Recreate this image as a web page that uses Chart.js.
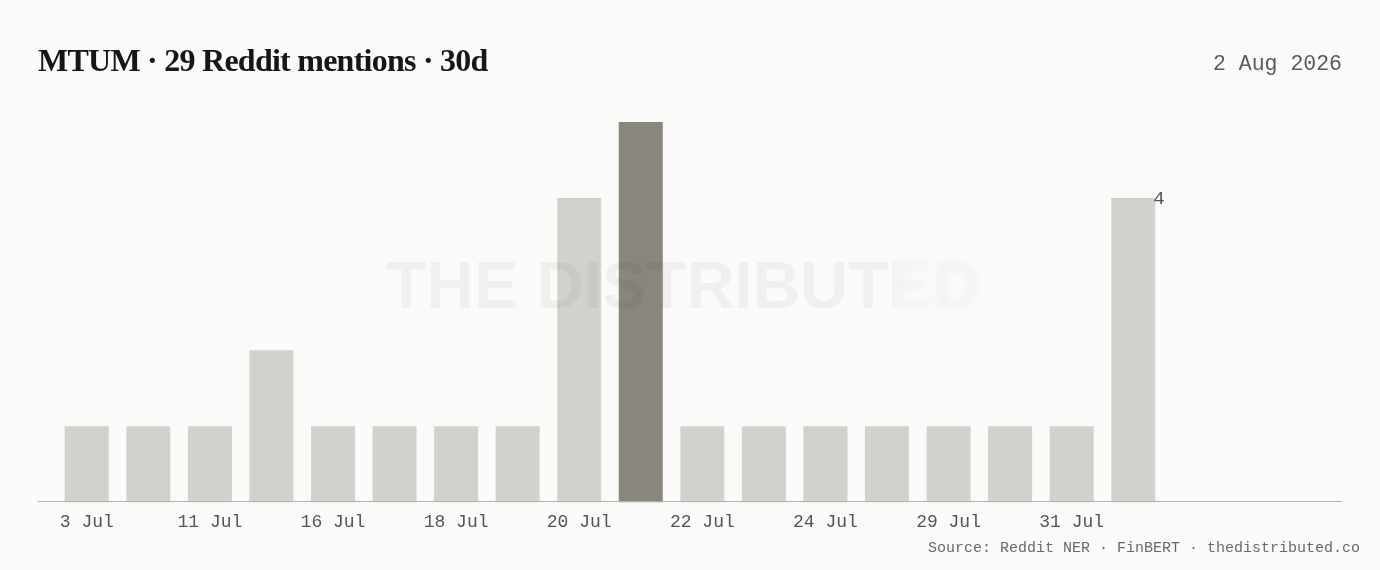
<!DOCTYPE html>
<html>
<head>
<meta charset="utf-8">
<script src="https://cdn.jsdelivr.net/npm/chart.js@4.4.1/dist/chart.umd.min.js"></script>
<style>
  html, body { margin: 0; padding: 0; background: #fafaf9; }
  #wrap { width: 1380px; height: 570px; position: relative; }
</style>
</head>
<body>
<div id="wrap"><canvas id="mentions-chart" width="1380" height="570"></canvas></div>
<script>
const days = ["3 Jul","8 Jul","11 Jul","14 Jul","16 Jul","17 Jul","18 Jul","19 Jul","20 Jul",
              "21 Jul","22 Jul","23 Jul","24 Jul","27 Jul","29 Jul","30 Jul","31 Jul","1 Aug"];
const mentions = [1,1,1,2,1,1,1,1,4,5,1,1,1,1,1,1,1,4];
const peakIndex = 9;
const titleText = "MTUM · 29 Reddit mentions · 30d";
const dateText = "2 Aug 2026";
const sourceText = "Source: Reddit NER · FinBERT · thedistributed.co";

const MONO = "'Liberation Mono', 'DejaVu Sans Mono', monospace";

// titles, watermark, baseline and the last-value label
const decor = {
    id: 'decor',
    beforeDraw(chart) {
        const c = chart.ctx;
        c.save();
        c.fillStyle = '#fafaf9';
        c.fillRect(0, 0, chart.width, chart.height);
        c.fillStyle = '#161616';
        c.font = "bold 32px 'Liberation Serif', serif";
        c.letterSpacing = '-0.75px';
        c.textBaseline = 'alphabetic';
        c.fillText(titleText, 38, 71);
        c.letterSpacing = '0px';
        c.fillStyle = '#5a5a5a';
        c.font = "21.5px " + MONO;
        c.textAlign = 'right';
        c.fillText(dateText, 1342, 70);
        c.fillStyle = '#6a6a6a';
        c.font = "15px " + MONO;
        c.fillText(sourceText, 1360, 552);
        c.restore();
    },
    afterDatasetsDraw(chart) {
        const c = chart.ctx;
        c.save();
        // baseline
        c.strokeStyle = '#b5b3b0';
        c.lineWidth = 1;
        c.beginPath();
        c.moveTo(38, 501.5);
        c.lineTo(1342, 501.5);
        c.stroke();
        // watermark
        c.font = "bold 66px 'Liberation Sans', Arial, sans-serif";
        c.textAlign = 'left';
        c.fillStyle = 'rgba(0,0,0,0.045)';
        c.save();
        c.beginPath(); c.rect(0, 0, 895, 570); c.clip();
        c.fillText("THE DISTRIBUTED", 386, 308);
        c.restore();
        c.save();
        c.beginPath(); c.rect(895, 0, 485, 570); c.clip();
        c.filter = 'blur(4px)';
        c.fillStyle = 'rgba(0,0,0,0.035)';
        c.fillText("THE DISTRIBUTED", 386, 308);
        c.restore();
        // last value label
        const meta = chart.getDatasetMeta(0);
        const last = meta.data[meta.data.length - 1];
        c.fillStyle = '#555';
        c.font = "19px " + MONO;
        c.textAlign = 'left';
        c.textBaseline = 'middle';
        c.fillText(String(mentions[mentions.length - 1]), last.x + last.width / 2 - 2, last.y + 1);
        c.restore();
    }
};

const ctx = document.getElementById("mentions-chart").getContext("2d");

let chart = new Chart(ctx, {
    type: 'bar',
    data: {
        labels: days,
        datasets: [{
            label: "Mentions",
            data: mentions,
            backgroundColor: mentions.map((v, i) => i === peakIndex ? "#8a857d" : "#d3d1cd"),
            borderWidth: 0,
            barPercentage: 0.715,
            categoryPercentage: 1
        }]
    },
    options: {
        responsive: false,
        animation: false,
        devicePixelRatio: 1,
        layout: {
            padding: { left: 56, right: 216, top: 122, bottom: 28 }
        },
        plugins: {
            legend: { display: false },
            tooltip: { enabled: false }
        },
        scales: {
            x: {
                grid: { display: false, drawTicks: false },
                border: { display: false },
                ticks: {
                    autoSkip: false,
                    maxRotation: 0,
                    padding: 9,
                    color: '#555',
                    font: { family: MONO, size: 18 },
                    callback: (v, i) => i % 2 === 0 ? days[i] : ''
                }
            },
            y: {
                display: false,
                min: 0,
                max: 5
            }
        }
    },
    plugins: [decor]
});
</script>
</body>
</html>
